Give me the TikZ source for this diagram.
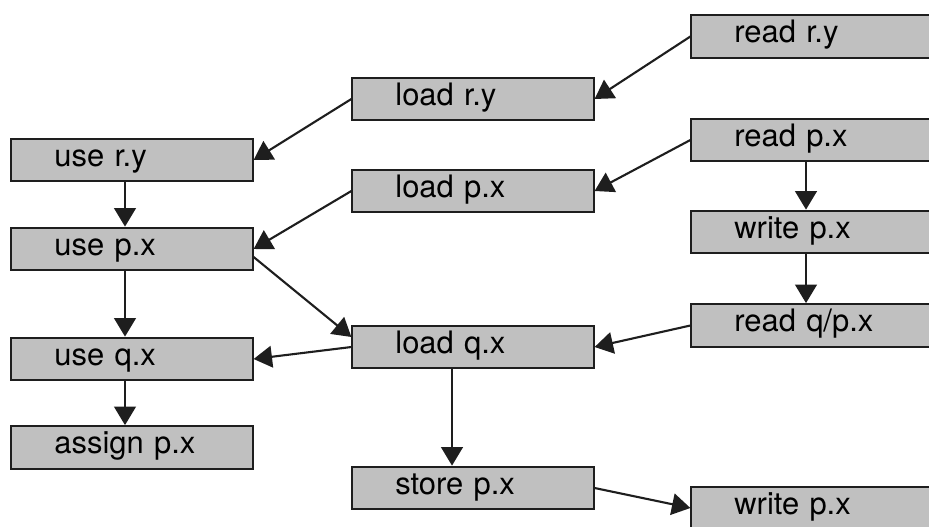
\documentclass[tikz,border=0pt]{standalone}
\usepackage{fontspec}
\setmainfont{TeX Gyre Heros}
\usepackage{tikz}
\usetikzlibrary{arrows.meta,calc}
\definecolor{boxgray}{HTML}{C0C0C0}
\definecolor{edgedark}{HTML}{1E1E1E}
\newcommand{\OpNode}[3]{%
  \node[opbox] (#1) at (#2) {#3};
}

\begin{document}
\begin{tikzpicture}[x=0.025cm,y=-0.025cm,
  opbox/.style={draw=edgedark, line width=1.4pt, fill=boxgray,
    minimum width=6.03cm, minimum height=1.07cm, text width=3.88cm,
    inner xsep=1.075cm, inner ysep=0pt, align=left,
    text height=0.95em, text depth=0.05em, font=\fontsize{22}{26}\selectfont},
  flow/.style={-{Triangle[length=4.6mm,width=5.4mm]}, line width=1.5pt, edgedark}]
  \useasboundingbox (0,0) rectangle (929,527);
  % left column
  \OpNode{ury}{132,160}{use r.y}
  \OpNode{upx}{132,249}{use p.x}
  \OpNode{uqx}{132,359}{use q.x}
  \OpNode{apx}{132,447.5}{assign p.x}
  % middle column
  \OpNode{lry}{473,99}{load r.y}
  \OpNode{lpx}{473,191}{load p.x}
  \OpNode{lqx}{473,347}{load q.x}
  \OpNode{spx}{473,488}{store p.x}
  % right column
  \OpNode{rry}{812,36.5}{read r.y}
  \OpNode{rpx}{812,140}{read p.x}
  \OpNode{wpx}{812,232}{write p.x}
  \OpNode{rqpx}{812,325.5}{read q/p.x}
  \OpNode{wpxb}{812,508}{write p.x}
  % cross edges
  \draw[flow] (rry.west) -- (lry.east);
  \draw[flow] (lry.west) -- (ury.east);
  \draw[flow] (rpx.west) -- (lpx.east);
  \draw[flow] (lpx.west) -- (upx.east);
  \draw[flow] ($(upx.east)+(0,8)$) -- ($(lqx.west)+(0,-10)$);
  \draw[flow] (lqx.west) -- (uqx.east);
  \draw[flow] (rqpx.west) -- (lqx.east);
  \draw[flow] (spx.east) -- (wpxb.west);
  % chains
  \draw[flow] ($(ury.south)+(-7,0)$) -- ($(upx.north)+(-7,0)$);
  \draw[flow] ($(upx.south)+(-7,0)$) -- ($(uqx.north)+(-7,0)$);
  \draw[flow] ($(uqx.south)+(-7,0)$) -- ($(apx.north)+(-7,0)$);
  \draw[flow] ($(rpx.south)+(-6,0)$) -- ($(wpx.north)+(-6,0)$);
  \draw[flow] ($(wpx.south)+(-6,0)$) -- ($(rqpx.north)+(-6,0)$);
  \draw[flow] ($(lqx.south)+(-21,0)$) -- ($(spx.north)+(-21,0)$);
\end{tikzpicture}
\end{document}
